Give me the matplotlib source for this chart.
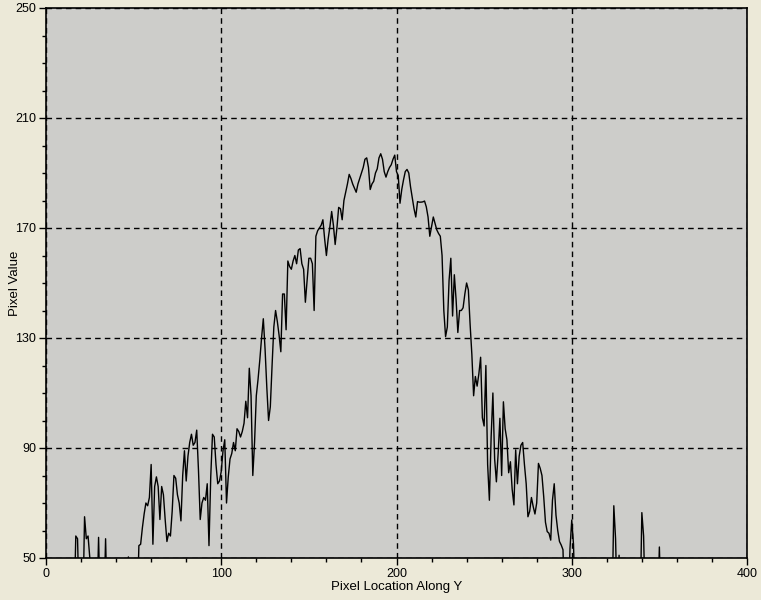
import numpy as np
import matplotlib.pyplot as plt
from matplotlib.ticker import MultipleLocator

LOW = 30  # values under the axis floor, clipped by ylim

# pixel values along Y, one sample per pixel location 0..400
vals_0_53 = [LOW] * 17 + [58, 57] + [LOW] * 3 + [65, 57, 58, 50] + [LOW] * 4 + \
    [57.5] + [LOW] * 3 + [57] + [LOW] * 12 + [50.4] + [LOW] * 4
vals_54_135 = [LOW, 54.5, 55, 61, 66, 70, 69, 72, 84, 55,
               76, 79.5, 76, 64, 76, 73, 64, 56, 59, 58,
               67, 80, 79, 73, 70, 63.5, 80, 89, 78, 87,
               92, 95, 91, 92, 96.5, 82, 64, 70, 72, 71,
               77, 54.5, 79.5, 95, 94, 84, 77, 78, 81.5, 89,
               93, 70, 79.5, 86, 88, 92, 89, 97, 96, 94,
               96, 99, 107, 101, 119, 109, 80, 92, 109, 115,
               122, 130, 137, 126, 112, 100, 105, 120, 134, 140,
               136, 131]
vals_136_220 = [125, 146, 146, 133, 158, 156, 155, 158, 160, 157,
                162, 162.5, 157, 155, 143, 151, 159, 159, 157, 140,
                167, 169, 170, 171, 173, 166, 160, 166, 170.5, 176,
                171, 164, 170, 177.5, 177, 173, 180, 183, 186, 189.5,
                188, 186, 184.5, 183, 186, 188, 190, 192, 195, 195.5,
                192, 184, 186, 187, 190, 191.5, 195.5, 197, 195, 190.5,
                188.5, 190.5, 192, 193, 195, 196.5, 190.5, 189, 179, 184,
                187.5, 190.5, 191.3, 190, 185, 181, 177, 174, 179.6, 179.4,
                179.4, 179.5, 179.8, 177.7, 174]
vals_221_303 = [167, 170.5, 174, 171.7, 169.3, 168, 167, 160, 140, 130.5,
                134, 151, 159, 138, 153, 144, 132, 140, 140, 141,
                146, 150, 147.5, 135, 124, 109, 116, 112.5, 117, 123,
                101, 98, 120, 84, 71, 94, 110, 86, 77.7, 88,
                100.8, 80, 106.8, 97, 93, 81, 85, 75, 69.3, 89.3,
                77, 87, 91, 92, 84, 77, 65, 67, 72, 68.7,
                66, 70, 84.4, 82.6, 80, 72.3, 63, 59.6, 59, 56.5,
                71, 77, 65.6, 60, 56, 54.7, 53, LOW, LOW, LOW,
                53.5, 63.8, 55]
vals_304_400 = [LOW] * 22 + [69, 57, LOW, 51] + [LOW] * 12 + [66.5, 58] + \
    [LOW] * 8 + [54] + [LOW] * 47

pixel_value = vals_0_53 + vals_54_135 + vals_136_220 + vals_221_303 + vals_304_400
location = np.arange(len(pixel_value))

x_ticks = [0, 100, 200, 300, 400]
y_ticks = [50, 90, 130, 170, 210, 250]

plt.rcParams['font.family'] = ['Liberation Sans', 'DejaVu Sans']

fig = plt.figure(figsize=(7.61, 6.0), dpi=100)
fig.patch.set_facecolor('#ece9d8')
ax = fig.add_axes([46 / 761, 42 / 600, 701 / 761, 550 / 600])
ax.set_facecolor('#cdcdca')

ax.plot(location, pixel_value, color='black', linewidth=1)

ax.set_xlim(0, 400)
ax.set_ylim(50, 250)
ax.set_xticks(x_ticks)
ax.set_yticks(y_ticks)
ax.xaxis.set_minor_locator(MultipleLocator(20))
ax.yaxis.set_minor_locator(MultipleLocator(10))
ax.tick_params(which='major', length=5, width=1, labelsize=9, pad=2)
ax.tick_params(which='minor', length=3, width=1)
ax.grid(True, which='major', color='black', linestyle=(0, (4, 3)), linewidth=1)

for s in ax.spines.values():
    s.set_color('black')
    s.set_linewidth(1.2)

ax.set_xlabel('Pixel Location Along Y', fontsize=9.5)
ax.set_ylabel('Pixel Value', fontsize=9.5)
ax.xaxis.set_label_coords(0.5, -0.041)
ax.yaxis.set_label_coords(-0.036, 0.5)

fig.savefig('out.png', dpi=100, facecolor=fig.get_facecolor())
